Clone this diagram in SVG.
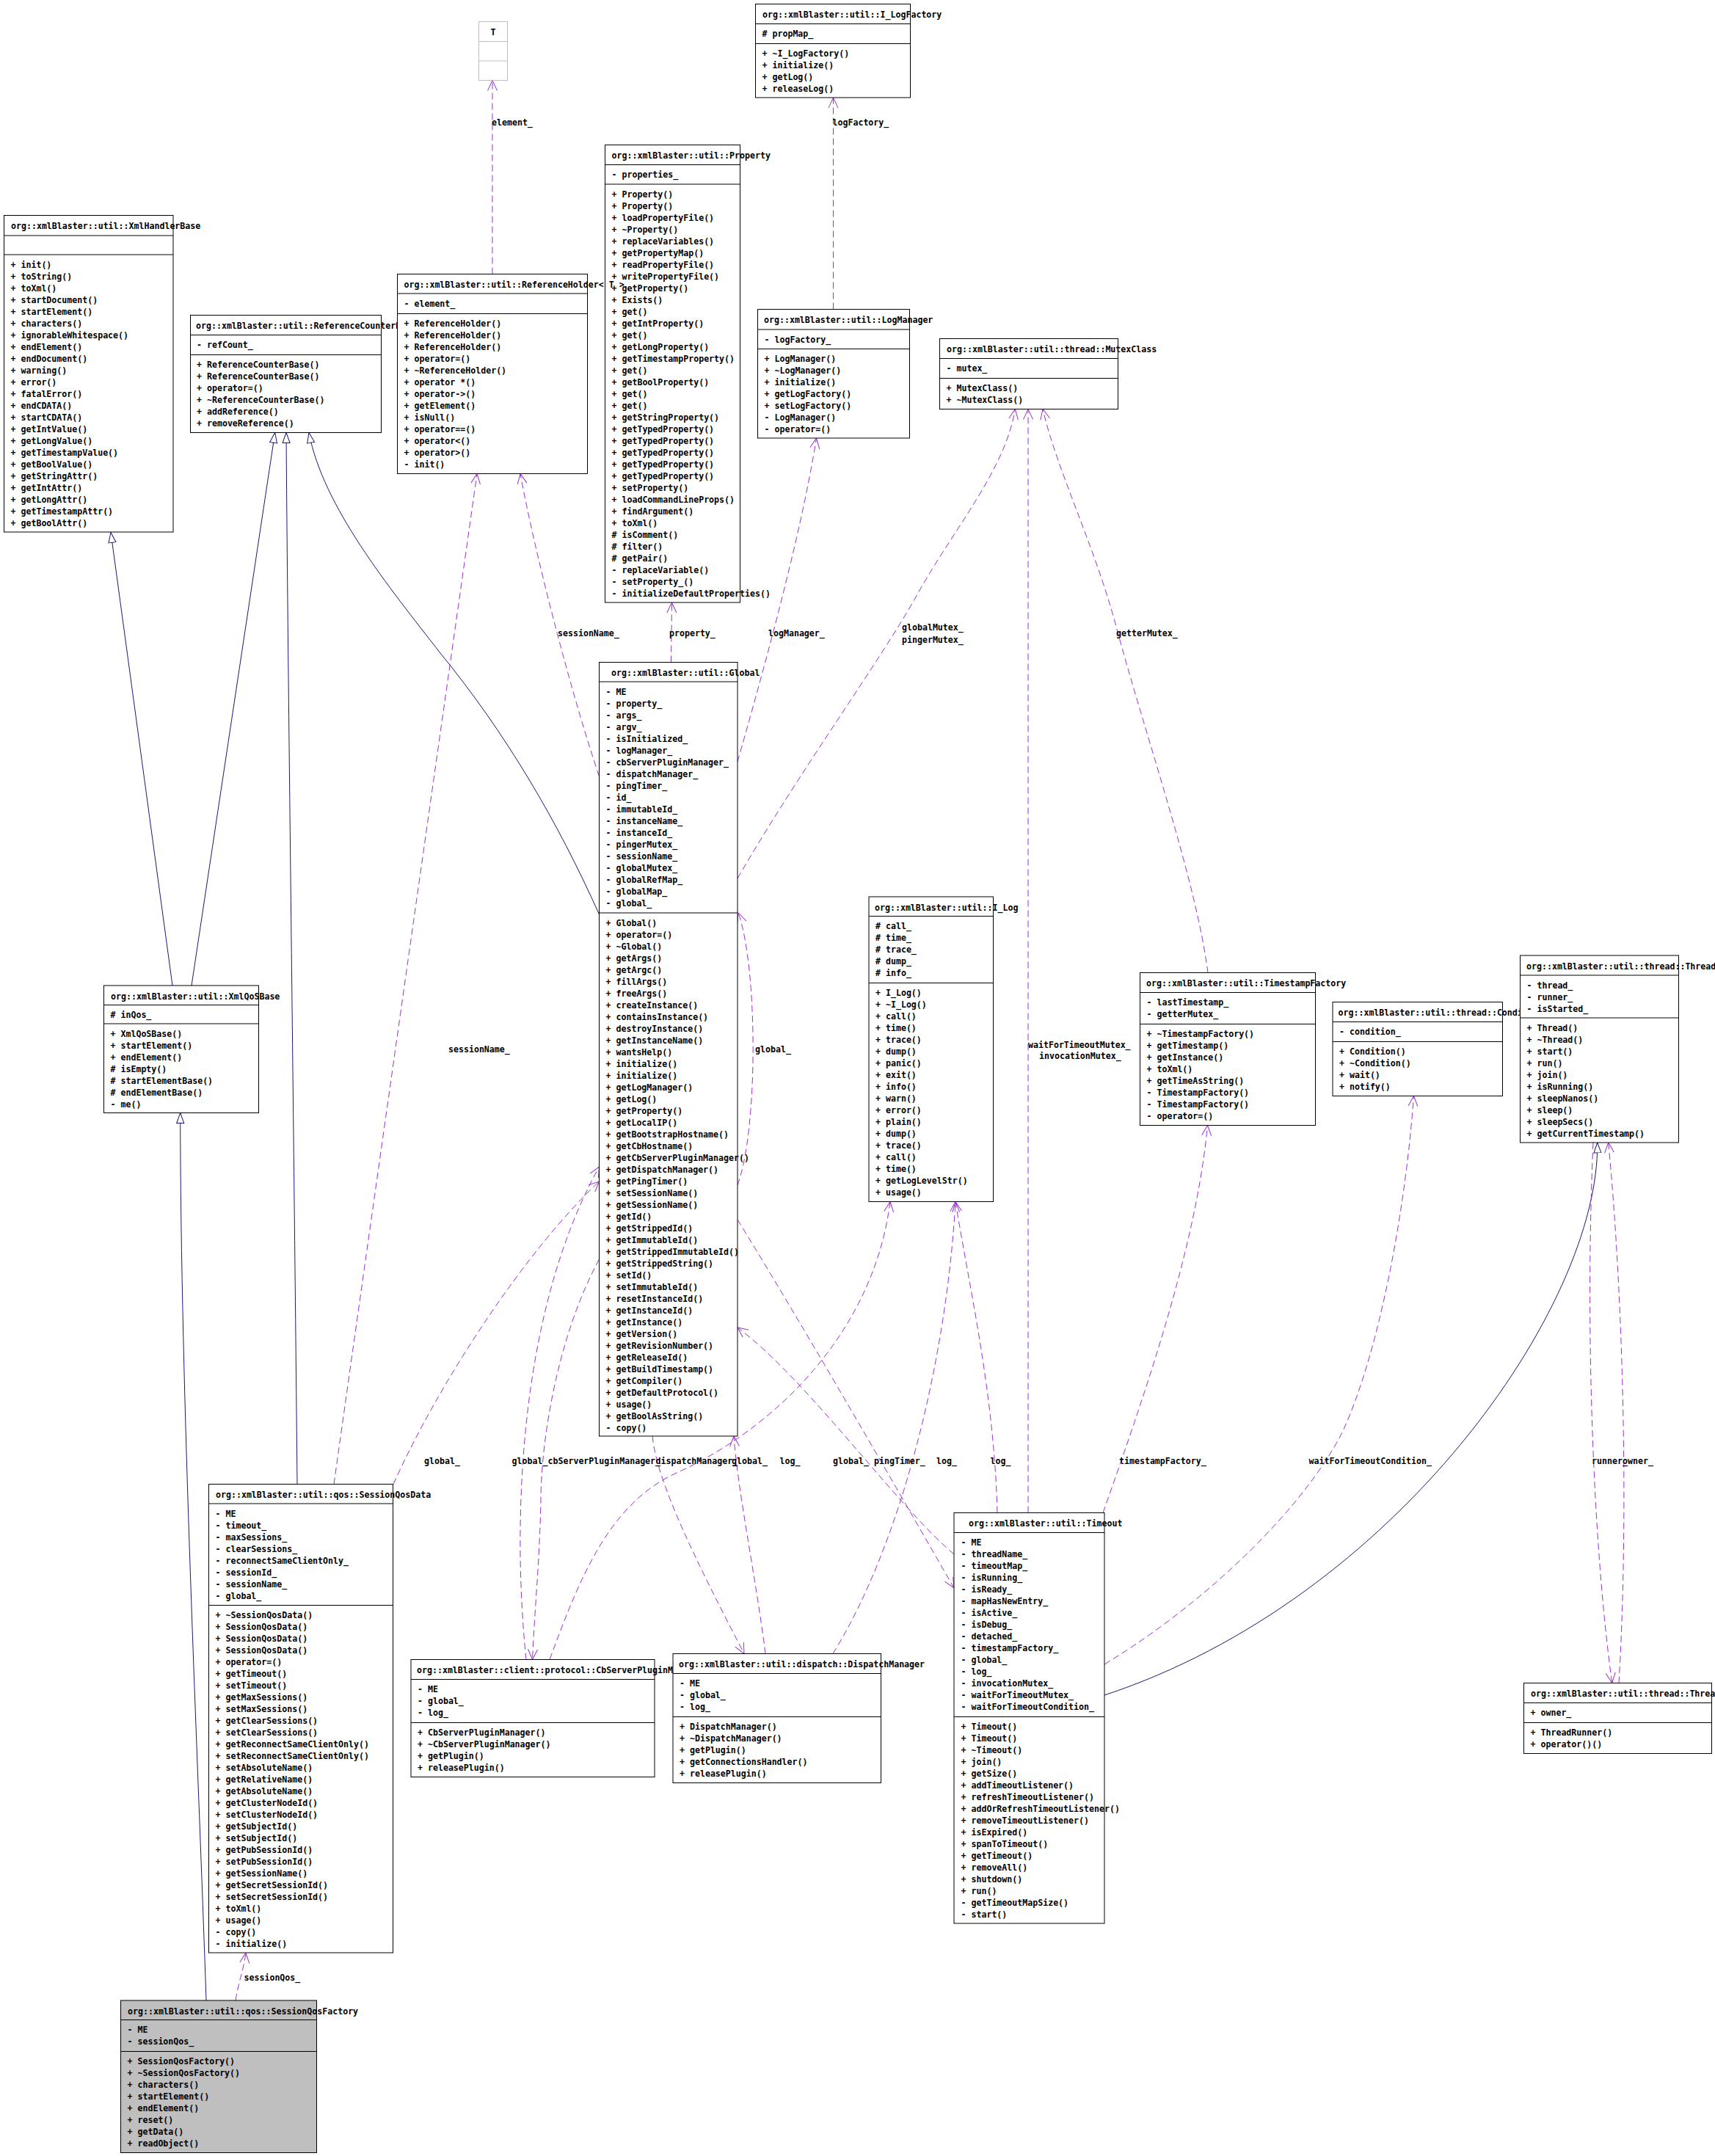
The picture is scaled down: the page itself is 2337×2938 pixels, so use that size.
<svg xmlns="http://www.w3.org/2000/svg" width="2337" height="2938" viewBox="0 0 2337 2938">
<style>
text{font-family:"DejaVu Sans Mono","Liberation Mono",monospace;font-weight:bold;font-size:11.6px;fill:#000;white-space:pre}
.b{fill:#fff;stroke:#000;stroke-width:1}
.g{fill:#bfbfbf;stroke:#000;stroke-width:1}
.s{fill:none;stroke:#000;stroke-width:1}
.e{fill:none;stroke:#9a32cd;stroke-width:1;stroke-dasharray:9,5;marker-end:url(#vee)}
.i{fill:none;stroke:#191970;stroke-width:1;marker-end:url(#tri)}
</style>
<defs>
<marker id="vee" markerUnits="userSpaceOnUse" viewBox="0 0 16 14" markerWidth="16" markerHeight="14" refX="14" refY="7" orient="auto"><path d="M0,0.5 L14,7 L0,13.5" fill="none" stroke="#9a32cd" stroke-width="1"/></marker>
<marker id="tri" markerUnits="userSpaceOnUse" viewBox="0 0 16 12" markerWidth="16" markerHeight="12" refX="14.5" refY="6" orient="auto"><path d="M0.5,1 L14.5,6 L0.5,11 Z" fill="#fff" stroke="#191970" stroke-width="1"/></marker>
</defs>
<rect width="2337" height="2938" fill="#fff"/>

<g id="edges">
<path class="i" d="M235,1343 L151,725.5"/>
<path class="i" d="M261,1343 L374.7,589.5"/>
<path class="i" d="M405,2022.5 C400,1500 392,900 390,589.5"/>
<path class="i" d="M816.5,1246 C760,1120 690,1000 600,890 C530,800 440,690 421,589.5"/>
<path class="i" d="M281,2726 C270,2400 246,1900 245.7,1516.5"/>
<path class="i" d="M1505,2310 C1900,2180 2180,1780 2176.7,1557"/>

<path class="e" d="M671,373.5 L671,109.5"/>
<path class="e" d="M1135.5,421.5 L1135.5,133"/>
<path class="e" d="M914.5,902.5 L915.5,821"/>
<path class="e" d="M816.5,1058 C780,950 730,760 709,645.5"/>
<path class="e" d="M455,2022.5 C520,1560 600,1000 650,645.5"/>
<path class="e" d="M1005,1038 C1030,950 1090,740 1112.5,597"/>
<path class="e" d="M1005,1197 C1090,1050 1200,900 1250,810 C1300,720 1370,640 1383.3,557.5"/>
<path class="e" d="M1401,2061.5 L1401,557.5"/>
<path class="e" d="M1646,1325.5 C1630,1200 1560,1000 1520,850 C1490,740 1440,640 1421,557.5"/>
<path class="e" d="M1005,1615 C1033,1540 1033,1320 1006,1244"/>
<path class="e" d="M1005,1662 C1090,1800 1200,1990 1300,2164"/>
<path class="e" d="M1300,2118 C1220,2050 1100,1880 1005,1809"/>
<path class="e" d="M536,2022.5 C600,1880 720,1700 816.5,1610"/>
<path class="e" d="M717,2261.5 C700,2100 700,1800 816.5,1590"/>
<path class="e" d="M816.5,1716 C760,1820 738,1960 737,2040 C736,2120 728,2200 725.5,2261.5"/>
<path class="e" d="M889,1957 C895,2020 950,2130 1014,2253.5"/>
<path class="e" d="M1043,2253.5 C1030,2150 1005,2030 1000,1957"/>
<path class="e" d="M749,2261.5 C790,2150 830,2050 920,2008 C1050,1950 1190,1820 1213,1637.5"/>
<path class="e" d="M1135,2253.5 C1230,2100 1290,1850 1302,1637.5"/>
<path class="e" d="M1359,2061.5 C1355,1900 1320,1750 1302,1637.5"/>
<path class="e" d="M1503,2061.5 C1560,1900 1630,1700 1645.5,1533.5"/>
<path class="e" d="M1505,2268 C1650,2180 1780,2050 1830,1950 C1880,1840 1915,1650 1926.5,1493.5"/>
<path class="e" d="M2171,1557 C2160,1800 2170,2100 2196.7,2293.5"/>
<path class="e" d="M2206,2293.5 C2218,2100 2215,1800 2191.7,1557"/>
<path class="e" d="M321,2726 C325,2700 332,2685 335,2661"/>

<text x="670" y="171">element_</text>
<text x="1134.5" y="171">logFactory_</text>
<text x="760" y="867">sessionName_</text>
<text x="912" y="867">property_</text>
<text x="1047" y="867">logManager_</text>
<text x="1229" y="859">globalMutex_</text>
<text x="1229" y="876">pingerMutex_</text>
<text x="1521" y="867">getterMutex_</text>
<text x="611" y="1434">sessionName_</text>
<text x="1029" y="1434">global_</text>
<text x="1401" y="1428">waitForTimeoutMutex_</text>
<text x="1416" y="1443">invocationMutex_</text>
<text x="578" y="1995">global_</text>
<text x="697.5" y="1995">global_</text>
<text x="746.5" y="1995">cbServerPluginManager_</text>
<text x="893.5" y="1995">dispatchManager_</text>
<text x="997" y="1995">global_</text>
<text x="1062.5" y="1995">log_</text>
<text x="1135" y="1995">global_</text>
<text x="1191" y="1995">pingTimer_</text>
<text x="1276" y="1995">log_</text>
<text x="1349.5" y="1995">log_</text>
<text x="1525" y="1995">timestampFactory_</text>
<text x="1783.5" y="1995">waitForTimeoutCondition_</text>
<text x="2169" y="1995">runner_</text>
<text x="2211" y="1995">owner_</text>
<text x="332.5" y="2699">sessionQos_</text>
</g>

<g id="XmlHandlerBase">
<rect class="b" x="5.5" y="293.5" width="230.5" height="431.5"/>
<path class="s" d="M5.5,321H236M5.5,347H236"/>
<text x="15" y="312">org::xmlBlaster::util::XmlHandlerBase</text>
<text x="14.5" y="364.5"><tspan x="14.5">+ init()</tspan><tspan x="14.5" dy="16">+ toString()</tspan><tspan x="14.5" dy="16">+ toXml()</tspan><tspan x="14.5" dy="16">+ startDocument()</tspan><tspan x="14.5" dy="16">+ startElement()</tspan><tspan x="14.5" dy="16">+ characters()</tspan><tspan x="14.5" dy="16">+ ignorableWhitespace()</tspan><tspan x="14.5" dy="16">+ endElement()</tspan><tspan x="14.5" dy="16">+ endDocument()</tspan><tspan x="14.5" dy="16">+ warning()</tspan><tspan x="14.5" dy="16">+ error()</tspan><tspan x="14.5" dy="16">+ fatalError()</tspan><tspan x="14.5" dy="16">+ endCDATA()</tspan><tspan x="14.5" dy="16">+ startCDATA()</tspan><tspan x="14.5" dy="16">+ getIntValue()</tspan><tspan x="14.5" dy="16">+ getLongValue()</tspan><tspan x="14.5" dy="16">+ getTimestampValue()</tspan><tspan x="14.5" dy="16">+ getBoolValue()</tspan><tspan x="14.5" dy="16">+ getStringAttr()</tspan><tspan x="14.5" dy="16">+ getIntAttr()</tspan><tspan x="14.5" dy="16">+ getLongAttr()</tspan><tspan x="14.5" dy="16">+ getTimestampAttr()</tspan><tspan x="14.5" dy="16">+ getBoolAttr()</tspan></text>
</g>

<g id="ReferenceCounterBase">
<rect class="b" x="259.5" y="429.5" width="260" height="160"/>
<path class="s" d="M259.5,456.5H519.5M259.5,483.5H519.5"/>
<text x="267" y="448">org::xmlBlaster::util::ReferenceCounterBase</text>
<text x="268" y="474">- refCount_</text>
<text x="268" y="501"><tspan x="268">+ ReferenceCounterBase()</tspan><tspan x="268" dy="16">+ ReferenceCounterBase()</tspan><tspan x="268" dy="16">+ operator=()</tspan><tspan x="268" dy="16">+ ~ReferenceCounterBase()</tspan><tspan x="268" dy="16">+ addReference()</tspan><tspan x="268" dy="16">+ removeReference()</tspan></text>
</g>

<g id="T">
<rect x="652.5" y="29.5" width="39" height="80" fill="#fff" stroke="#bfbfbf"/>
<path d="M652.5,56.5H691.5M652.5,83H691.5" fill="none" stroke="#bfbfbf"/>
<text x="672" y="48" text-anchor="middle">T</text>
</g>

<g id="I_LogFactory">
<rect class="b" x="1029.5" y="5.5" width="211" height="127.5"/>
<path class="s" d="M1029.5,32.5H1240.5M1029.5,59.5H1240.5"/>
<text x="1039" y="24">org::xmlBlaster::util::I_LogFactory</text>
<text x="1038.5" y="50"># propMap_</text>
<text x="1038.5" y="77"><tspan x="1038.5">+ ~I_LogFactory()</tspan><tspan x="1038.5" dy="16">+ initialize()</tspan><tspan x="1038.5" dy="16">+ getLog()</tspan><tspan x="1038.5" dy="16">+ releaseLog()</tspan></text>
</g>

<g id="Property">
<rect class="b" x="824.5" y="197.5" width="184" height="623.5"/>
<path class="s" d="M824.5,224.5H1008.5M824.5,251H1008.5"/>
<text x="833.5" y="216">org::xmlBlaster::util::Property</text>
<text x="833.5" y="242">- properties_</text>
<text x="833.5" y="268.5"><tspan x="833.5">+ Property()</tspan><tspan x="833.5" dy="16">+ Property()</tspan><tspan x="833.5" dy="16">+ loadPropertyFile()</tspan><tspan x="833.5" dy="16">+ ~Property()</tspan><tspan x="833.5" dy="16">+ replaceVariables()</tspan><tspan x="833.5" dy="16">+ getPropertyMap()</tspan><tspan x="833.5" dy="16">+ readPropertyFile()</tspan><tspan x="833.5" dy="16">+ writePropertyFile()</tspan><tspan x="833.5" dy="16">+ getProperty()</tspan><tspan x="833.5" dy="16">+ Exists()</tspan><tspan x="833.5" dy="16">+ get()</tspan><tspan x="833.5" dy="16">+ getIntProperty()</tspan><tspan x="833.5" dy="16">+ get()</tspan><tspan x="833.5" dy="16">+ getLongProperty()</tspan><tspan x="833.5" dy="16">+ getTimestampProperty()</tspan><tspan x="833.5" dy="16">+ get()</tspan><tspan x="833.5" dy="16">+ getBoolProperty()</tspan><tspan x="833.5" dy="16">+ get()</tspan><tspan x="833.5" dy="16">+ get()</tspan><tspan x="833.5" dy="16">+ getStringProperty()</tspan><tspan x="833.5" dy="16">+ getTypedProperty()</tspan><tspan x="833.5" dy="16">+ getTypedProperty()</tspan><tspan x="833.5" dy="16">+ getTypedProperty()</tspan><tspan x="833.5" dy="16">+ getTypedProperty()</tspan><tspan x="833.5" dy="16">+ getTypedProperty()</tspan><tspan x="833.5" dy="16">+ setProperty()</tspan><tspan x="833.5" dy="16">+ loadCommandLineProps()</tspan><tspan x="833.5" dy="16">+ findArgument()</tspan><tspan x="833.5" dy="16">+ toXml()</tspan><tspan x="833.5" dy="16"># isComment()</tspan><tspan x="833.5" dy="16"># filter()</tspan><tspan x="833.5" dy="16"># getPair()</tspan><tspan x="833.5" dy="16">- replaceVariable()</tspan><tspan x="833.5" dy="16">- setProperty_()</tspan><tspan x="833.5" dy="16">- initializeDefaultProperties()</tspan></text>
</g>

<g id="ReferenceHolder">
<rect class="b" x="541.5" y="373.5" width="259" height="272"/>
<path class="s" d="M541.5,400H800.5M541.5,427.5H800.5"/>
<text x="550.5" y="392">org::xmlBlaster::util::ReferenceHolder&lt; T &gt;</text>
<text x="550.5" y="417.5">- element_</text>
<text x="550.5" y="445"><tspan x="550.5">+ ReferenceHolder()</tspan><tspan x="550.5" dy="16">+ ReferenceHolder()</tspan><tspan x="550.5" dy="16">+ ReferenceHolder()</tspan><tspan x="550.5" dy="16">+ operator=()</tspan><tspan x="550.5" dy="16">+ ~ReferenceHolder()</tspan><tspan x="550.5" dy="16">+ operator *()</tspan><tspan x="550.5" dy="16">+ operator-&gt;()</tspan><tspan x="550.5" dy="16">+ getElement()</tspan><tspan x="550.5" dy="16">+ isNull()</tspan><tspan x="550.5" dy="16">+ operator==()</tspan><tspan x="550.5" dy="16">+ operator&lt;()</tspan><tspan x="550.5" dy="16">+ operator&gt;()</tspan><tspan x="550.5" dy="16">- init()</tspan></text>
</g>

<g id="LogManager">
<rect class="b" x="1032.5" y="421.5" width="207" height="175.5"/>
<path class="s" d="M1032.5,449H1239.5M1032.5,475.5H1239.5"/>
<text x="1041" y="440">org::xmlBlaster::util::LogManager</text>
<text x="1041.5" y="466.5">- logFactory_</text>
<text x="1041.5" y="493"><tspan x="1041.5">+ LogManager()</tspan><tspan x="1041.5" dy="16">+ ~LogManager()</tspan><tspan x="1041.5" dy="16">+ initialize()</tspan><tspan x="1041.5" dy="16">+ getLogFactory()</tspan><tspan x="1041.5" dy="16">+ setLogFactory()</tspan><tspan x="1041.5" dy="16">- LogManager()</tspan><tspan x="1041.5" dy="16">- operator=()</tspan></text>
</g>

<g id="MutexClass">
<rect class="b" x="1280.5" y="461.5" width="243" height="96"/>
<path class="s" d="M1280.5,488.5H1523.5M1280.5,515.5H1523.5"/>
<text x="1290" y="480">org::xmlBlaster::util::thread::MutexClass</text>
<text x="1289.5" y="506">- mutex_</text>
<text x="1289.5" y="533"><tspan x="1289.5">+ MutexClass()</tspan><tspan x="1289.5" dy="16">+ ~MutexClass()</tspan></text>
</g>

<g id="Global">
<rect class="b" x="816.5" y="902.5" width="188.5" height="1054.5"/>
<path class="s" d="M816.5,929H1005M816.5,1244H1005"/>
<text x="833" y="921">org::xmlBlaster::util::Global</text>
<text x="825.5" y="946.5"><tspan x="825.5">- ME</tspan><tspan x="825.5" dy="16">- property_</tspan><tspan x="825.5" dy="16">- args_</tspan><tspan x="825.5" dy="16">- argv_</tspan><tspan x="825.5" dy="16">- isInitialized_</tspan><tspan x="825.5" dy="16">- logManager_</tspan><tspan x="825.5" dy="16">- cbServerPluginManager_</tspan><tspan x="825.5" dy="16">- dispatchManager_</tspan><tspan x="825.5" dy="16">- pingTimer_</tspan><tspan x="825.5" dy="16">- id_</tspan><tspan x="825.5" dy="16">- immutableId_</tspan><tspan x="825.5" dy="16">- instanceName_</tspan><tspan x="825.5" dy="16">- instanceId_</tspan><tspan x="825.5" dy="16">- pingerMutex_</tspan><tspan x="825.5" dy="16">- sessionName_</tspan><tspan x="825.5" dy="16">- globalMutex_</tspan><tspan x="825.5" dy="16">- globalRefMap_</tspan><tspan x="825.5" dy="16">- globalMap_</tspan><tspan x="825.5" dy="16">- global_</tspan></text>
<text x="825.5" y="1261.5"><tspan x="825.5">+ Global()</tspan><tspan x="825.5" dy="16">+ operator=()</tspan><tspan x="825.5" dy="16">+ ~Global()</tspan><tspan x="825.5" dy="16">+ getArgs()</tspan><tspan x="825.5" dy="16">+ getArgc()</tspan><tspan x="825.5" dy="16">+ fillArgs()</tspan><tspan x="825.5" dy="16">+ freeArgs()</tspan><tspan x="825.5" dy="16">+ createInstance()</tspan><tspan x="825.5" dy="16">+ containsInstance()</tspan><tspan x="825.5" dy="16">+ destroyInstance()</tspan><tspan x="825.5" dy="16">+ getInstanceName()</tspan><tspan x="825.5" dy="16">+ wantsHelp()</tspan><tspan x="825.5" dy="16">+ initialize()</tspan><tspan x="825.5" dy="16">+ initialize()</tspan><tspan x="825.5" dy="16">+ getLogManager()</tspan><tspan x="825.5" dy="16">+ getLog()</tspan><tspan x="825.5" dy="16">+ getProperty()</tspan><tspan x="825.5" dy="16">+ getLocalIP()</tspan><tspan x="825.5" dy="16">+ getBootstrapHostname()</tspan><tspan x="825.5" dy="16">+ getCbHostname()</tspan><tspan x="825.5" dy="16">+ getCbServerPluginManager()</tspan><tspan x="825.5" dy="16">+ getDispatchManager()</tspan><tspan x="825.5" dy="16">+ getPingTimer()</tspan><tspan x="825.5" dy="16">+ setSessionName()</tspan><tspan x="825.5" dy="16">+ getSessionName()</tspan><tspan x="825.5" dy="16">+ getId()</tspan><tspan x="825.5" dy="16">+ getStrippedId()</tspan><tspan x="825.5" dy="16">+ getImmutableId()</tspan><tspan x="825.5" dy="16">+ getStrippedImmutableId()</tspan><tspan x="825.5" dy="16">+ getStrippedString()</tspan><tspan x="825.5" dy="16">+ setId()</tspan><tspan x="825.5" dy="16">+ setImmutableId()</tspan><tspan x="825.5" dy="16">+ resetInstanceId()</tspan><tspan x="825.5" dy="16">+ getInstanceId()</tspan><tspan x="825.5" dy="16">+ getInstance()</tspan><tspan x="825.5" dy="16">+ getVersion()</tspan><tspan x="825.5" dy="16">+ getRevisionNumber()</tspan><tspan x="825.5" dy="16">+ getReleaseId()</tspan><tspan x="825.5" dy="16">+ getBuildTimestamp()</tspan><tspan x="825.5" dy="16">+ getCompiler()</tspan><tspan x="825.5" dy="16">+ getDefaultProtocol()</tspan><tspan x="825.5" dy="16">+ usage()</tspan><tspan x="825.5" dy="16">+ getBoolAsString()</tspan><tspan x="825.5" dy="16">- copy()</tspan></text>
</g>

<g id="I_Log">
<rect class="b" x="1184" y="1222" width="169.5" height="415.5"/>
<path class="s" d="M1184,1248.5H1353.5M1184,1339.5H1353.5"/>
<text x="1192" y="1240.5">org::xmlBlaster::util::I_Log</text>
<text x="1193" y="1266"><tspan x="1193"># call_</tspan><tspan x="1193" dy="16"># time_</tspan><tspan x="1193" dy="16"># trace_</tspan><tspan x="1193" dy="16"># dump_</tspan><tspan x="1193" dy="16"># info_</tspan></text>
<text x="1193" y="1357"><tspan x="1193">+ I_Log()</tspan><tspan x="1193" dy="16">+ ~I_Log()</tspan><tspan x="1193" dy="16">+ call()</tspan><tspan x="1193" dy="16">+ time()</tspan><tspan x="1193" dy="16">+ trace()</tspan><tspan x="1193" dy="16">+ dump()</tspan><tspan x="1193" dy="16">+ panic()</tspan><tspan x="1193" dy="16">+ exit()</tspan><tspan x="1193" dy="16">+ info()</tspan><tspan x="1193" dy="16">+ warn()</tspan><tspan x="1193" dy="16">+ error()</tspan><tspan x="1193" dy="16">+ plain()</tspan><tspan x="1193" dy="16">+ dump()</tspan><tspan x="1193" dy="16">+ trace()</tspan><tspan x="1193" dy="16">+ call()</tspan><tspan x="1193" dy="16">+ time()</tspan><tspan x="1193" dy="16">+ getLogLevelStr()</tspan><tspan x="1193" dy="16">+ usage()</tspan></text>
</g>

<g id="TimestampFactory">
<rect class="b" x="1553.5" y="1325.5" width="239" height="208"/>
<path class="s" d="M1553.5,1352.5H1792.5M1553.5,1395.5H1792.5"/>
<text x="1562" y="1344">org::xmlBlaster::util::TimestampFactory</text>
<text x="1562.5" y="1370"><tspan x="1562.5">- lastTimestamp_</tspan><tspan x="1562.5" dy="16">- getterMutex_</tspan></text>
<text x="1562.5" y="1413"><tspan x="1562.5">+ ~TimestampFactory()</tspan><tspan x="1562.5" dy="16">+ getTimestamp()</tspan><tspan x="1562.5" dy="16">+ getInstance()</tspan><tspan x="1562.5" dy="16">+ toXml()</tspan><tspan x="1562.5" dy="16">+ getTimeAsString()</tspan><tspan x="1562.5" dy="16">- TimestampFactory()</tspan><tspan x="1562.5" dy="16">- TimestampFactory()</tspan><tspan x="1562.5" dy="16">- operator=()</tspan></text>
</g>

<g id="Condition">
<rect class="b" x="1816" y="1365.5" width="231.5" height="128"/>
<path class="s" d="M1816,1392.5H2047.5M1816,1419.5H2047.5"/>
<text x="1823.5" y="1384">org::xmlBlaster::util::thread::Condition</text>
<text x="1825" y="1410">- condition_</text>
<text x="1825" y="1437"><tspan x="1825">+ Condition()</tspan><tspan x="1825" dy="16">+ ~Condition()</tspan><tspan x="1825" dy="16">+ wait()</tspan><tspan x="1825" dy="16">+ notify()</tspan></text>
</g>

<g id="Thread">
<rect class="b" x="2071.5" y="1302" width="216" height="255"/>
<path class="s" d="M2071.5,1329H2287.5M2071.5,1387H2287.5"/>
<text x="2080" y="1320.5">org::xmlBlaster::util::thread::Thread</text>
<text x="2080.5" y="1346.5"><tspan x="2080.5">- thread_</tspan><tspan x="2080.5" dy="16">- runner_</tspan><tspan x="2080.5" dy="16">- isStarted_</tspan></text>
<text x="2080.5" y="1404.5"><tspan x="2080.5">+ Thread()</tspan><tspan x="2080.5" dy="16">+ ~Thread()</tspan><tspan x="2080.5" dy="16">+ start()</tspan><tspan x="2080.5" dy="16">+ run()</tspan><tspan x="2080.5" dy="16">+ join()</tspan><tspan x="2080.5" dy="16">+ isRunning()</tspan><tspan x="2080.5" dy="16">+ sleepNanos()</tspan><tspan x="2080.5" dy="16">+ sleep()</tspan><tspan x="2080.5" dy="16">+ sleepSecs()</tspan><tspan x="2080.5" dy="16">+ getCurrentTimestamp()</tspan></text>
</g>

<g id="ThreadRunner">
<rect class="b" x="2076.5" y="2293.5" width="256" height="96"/>
<path class="s" d="M2076.5,2320.5H2332.5M2076.5,2347.5H2332.5"/>
<text x="2086" y="2312">org::xmlBlaster::util::thread::ThreadRunner</text>
<text x="2085.5" y="2338">+ owner_</text>
<text x="2085.5" y="2365"><tspan x="2085.5">+ ThreadRunner()</tspan><tspan x="2085.5" dy="16">+ operator()()</tspan></text>
</g>

<g id="XmlQoSBase">
<rect class="b" x="141.5" y="1343" width="211" height="173.5"/>
<path class="s" d="M141.5,1369.5H352.5M141.5,1395H352.5"/>
<text x="151" y="1361.5">org::xmlBlaster::util::XmlQoSBase</text>
<text x="150.5" y="1387"># inQos_</text>
<text x="150.5" y="1412.5"><tspan x="150.5">+ XmlQoSBase()</tspan><tspan x="150.5" dy="16">+ startElement()</tspan><tspan x="150.5" dy="16">+ endElement()</tspan><tspan x="150.5" dy="16"># isEmpty()</tspan><tspan x="150.5" dy="16"># startElementBase()</tspan><tspan x="150.5" dy="16"># endElementBase()</tspan><tspan x="150.5" dy="16">- me()</tspan></text>
</g>

<g id="SessionQosData">
<rect class="b" x="284.5" y="2022.5" width="251" height="638.5"/>
<path class="s" d="M284.5,2049H535.5M284.5,2187.5H535.5"/>
<text x="294" y="2041">org::xmlBlaster::util::qos::SessionQosData</text>
<text x="293.5" y="2066.5"><tspan x="293.5">- ME</tspan><tspan x="293.5" dy="16">- timeout_</tspan><tspan x="293.5" dy="16">- maxSessions_</tspan><tspan x="293.5" dy="16">- clearSessions_</tspan><tspan x="293.5" dy="16">- reconnectSameClientOnly_</tspan><tspan x="293.5" dy="16">- sessionId_</tspan><tspan x="293.5" dy="16">- sessionName_</tspan><tspan x="293.5" dy="16">- global_</tspan></text>
<text x="293.5" y="2205"><tspan x="293.5">+ ~SessionQosData()</tspan><tspan x="293.5" dy="16">+ SessionQosData()</tspan><tspan x="293.5" dy="16">+ SessionQosData()</tspan><tspan x="293.5" dy="16">+ SessionQosData()</tspan><tspan x="293.5" dy="16">+ operator=()</tspan><tspan x="293.5" dy="16">+ getTimeout()</tspan><tspan x="293.5" dy="16">+ setTimeout()</tspan><tspan x="293.5" dy="16">+ getMaxSessions()</tspan><tspan x="293.5" dy="16">+ setMaxSessions()</tspan><tspan x="293.5" dy="16">+ getClearSessions()</tspan><tspan x="293.5" dy="16">+ setClearSessions()</tspan><tspan x="293.5" dy="16">+ getReconnectSameClientOnly()</tspan><tspan x="293.5" dy="16">+ setReconnectSameClientOnly()</tspan><tspan x="293.5" dy="16">+ setAbsoluteName()</tspan><tspan x="293.5" dy="16">+ getRelativeName()</tspan><tspan x="293.5" dy="16">+ getAbsoluteName()</tspan><tspan x="293.5" dy="16">+ getClusterNodeId()</tspan><tspan x="293.5" dy="16">+ setClusterNodeId()</tspan><tspan x="293.5" dy="16">+ getSubjectId()</tspan><tspan x="293.5" dy="16">+ setSubjectId()</tspan><tspan x="293.5" dy="16">+ getPubSessionId()</tspan><tspan x="293.5" dy="16">+ setPubSessionId()</tspan><tspan x="293.5" dy="16">+ getSessionName()</tspan><tspan x="293.5" dy="16">+ getSecretSessionId()</tspan><tspan x="293.5" dy="16">+ setSecretSessionId()</tspan><tspan x="293.5" dy="16">+ toXml()</tspan><tspan x="293.5" dy="16">+ usage()</tspan><tspan x="293.5" dy="16">- copy()</tspan><tspan x="293.5" dy="16">- initialize()</tspan></text>
</g>

<g id="SessionQosFactory">
<rect class="g" x="164.5" y="2726" width="267" height="207.5"/>
<path class="s" d="M164.5,2752.5H431.5M164.5,2795.5H431.5"/>
<text x="174" y="2744.5">org::xmlBlaster::util::qos::SessionQosFactory</text>
<text x="173.5" y="2770"><tspan x="173.5">- ME</tspan><tspan x="173.5" dy="16">- sessionQos_</tspan></text>
<text x="173.5" y="2813"><tspan x="173.5">+ SessionQosFactory()</tspan><tspan x="173.5" dy="16">+ ~SessionQosFactory()</tspan><tspan x="173.5" dy="16">+ characters()</tspan><tspan x="173.5" dy="16">+ startElement()</tspan><tspan x="173.5" dy="16">+ endElement()</tspan><tspan x="173.5" dy="16">+ reset()</tspan><tspan x="173.5" dy="16">+ getData()</tspan><tspan x="173.5" dy="16">+ readObject()</tspan></text>
</g>

<g id="CbServerPluginManager">
<rect class="b" x="560" y="2261.5" width="332" height="160"/>
<path class="s" d="M560,2288.5H892M560,2347.5H892"/>
<text x="568" y="2280">org::xmlBlaster::client::protocol::CbServerPluginManager</text>
<text x="569" y="2306"><tspan x="569">- ME</tspan><tspan x="569" dy="16">- global_</tspan><tspan x="569" dy="16">- log_</tspan></text>
<text x="569" y="2365"><tspan x="569">+ CbServerPluginManager()</tspan><tspan x="569" dy="16">+ ~CbServerPluginManager()</tspan><tspan x="569" dy="16">+ getPlugin()</tspan><tspan x="569" dy="16">+ releasePlugin()</tspan></text>
</g>

<g id="DispatchManager">
<rect class="b" x="917" y="2253.5" width="283.5" height="176"/>
<path class="s" d="M917,2280.5H1200.5M917,2339.5H1200.5"/>
<text x="925" y="2272">org::xmlBlaster::util::dispatch::DispatchManager</text>
<text x="926" y="2298"><tspan x="926">- ME</tspan><tspan x="926" dy="16">- global_</tspan><tspan x="926" dy="16">- log_</tspan></text>
<text x="926" y="2357"><tspan x="926">+ DispatchManager()</tspan><tspan x="926" dy="16">+ ~DispatchManager()</tspan><tspan x="926" dy="16">+ getPlugin()</tspan><tspan x="926" dy="16">+ getConnectionsHandler()</tspan><tspan x="926" dy="16">+ releasePlugin()</tspan></text>
</g>

<g id="Timeout">
<rect class="b" x="1300" y="2061.5" width="205" height="559.5"/>
<path class="s" d="M1300,2088.5H1505M1300,2339.5H1505"/>
<text x="1320" y="2080">org::xmlBlaster::util::Timeout</text>
<text x="1309.5" y="2106"><tspan x="1309.5">- ME</tspan><tspan x="1309.5" dy="16">- threadName_</tspan><tspan x="1309.5" dy="16">- timeoutMap_</tspan><tspan x="1309.5" dy="16">- isRunning_</tspan><tspan x="1309.5" dy="16">- isReady_</tspan><tspan x="1309.5" dy="16">- mapHasNewEntry_</tspan><tspan x="1309.5" dy="16">- isActive_</tspan><tspan x="1309.5" dy="16">- isDebug_</tspan><tspan x="1309.5" dy="16">- detached_</tspan><tspan x="1309.5" dy="16">- timestampFactory_</tspan><tspan x="1309.5" dy="16">- global_</tspan><tspan x="1309.5" dy="16">- log_</tspan><tspan x="1309.5" dy="16">- invocationMutex_</tspan><tspan x="1309.5" dy="16">- waitForTimeoutMutex_</tspan><tspan x="1309.5" dy="16">- waitForTimeoutCondition_</tspan></text>
<text x="1309.5" y="2357"><tspan x="1309.5">+ Timeout()</tspan><tspan x="1309.5" dy="16">+ Timeout()</tspan><tspan x="1309.5" dy="16">+ ~Timeout()</tspan><tspan x="1309.5" dy="16">+ join()</tspan><tspan x="1309.5" dy="16">+ getSize()</tspan><tspan x="1309.5" dy="16">+ addTimeoutListener()</tspan><tspan x="1309.5" dy="16">+ refreshTimeoutListener()</tspan><tspan x="1309.5" dy="16">+ addOrRefreshTimeoutListener()</tspan><tspan x="1309.5" dy="16">+ removeTimeoutListener()</tspan><tspan x="1309.5" dy="16">+ isExpired()</tspan><tspan x="1309.5" dy="16">+ spanToTimeout()</tspan><tspan x="1309.5" dy="16">+ getTimeout()</tspan><tspan x="1309.5" dy="16">+ removeAll()</tspan><tspan x="1309.5" dy="16">+ shutdown()</tspan><tspan x="1309.5" dy="16">+ run()</tspan><tspan x="1309.5" dy="16">- getTimeoutMapSize()</tspan><tspan x="1309.5" dy="16">- start()</tspan></text>
</g>
</svg>
